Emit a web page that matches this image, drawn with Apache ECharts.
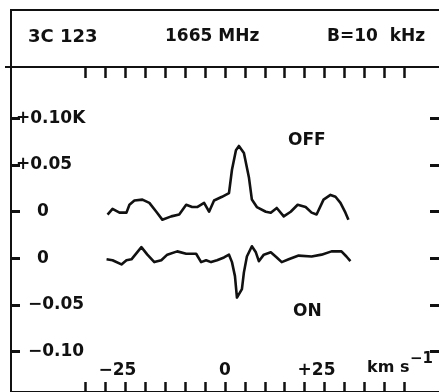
<!DOCTYPE html>
<html>
<head>
<meta charset="utf-8">
<script src="https://cdn.jsdelivr.net/npm/echarts@6/dist/echarts.min.js"></script>
<style>
  html, body { margin: 0; padding: 0; background: #fff; overflow: hidden; }
  #chart { width: 439px; height: 392px; }
</style>
</head>
<body>
<div id="chart"></div>
<script>
// OH 1665 MHz spectra toward 3C 123: off-source (upper) and on-source (lower)
const offVelocity = [-29.5, -28.25, -26.5, -24.75, -24, -22.75, -20.75, -19, -17.25, -15.75, -13.5, -11.5,
  -9.75, -8.25, -7, -5.25, -4, -2.75, -0.75, 1, 1.75, 2.75, 3.5, 4.75, 6, 6.75, 8, 10.25, 11.5, 13,
  14.75, 16.5, 18.25, 20.25, 21.75, 23, 24.75, 26.5, 27.75, 29, 30.25, 31];
const offTemp = [-0.003, 0.003, -0.001, -0.001, 0.0075, 0.012, 0.013, 0.0095, 0, -0.0085, -0.005, -0.003,
  0.0075, 0.005, 0.005, 0.0095, 0, 0.012, 0.016, 0.020, 0.045, 0.066, 0.0705, 0.063, 0.037, 0.013, 0.005,
  0, -0.001, 0.004, -0.005, 0, 0.0075, 0.005, -0.001, -0.003, 0.013, 0.018, 0.016, 0.0095, -0.001, -0.0085];

const onVelocity = [-29.75, -28.25, -26, -24.75, -23.5, -21, -19.5, -17.75, -16, -14.5, -12, -9.75, -7.25,
  -6, -4.75, -3.5, -2, -0.25, 1, 1.75, 2.5, 3, 3.5, 4.25, 4.75, 5.5, 6.75, 7.75, 8.5, 9.75, 11.5, 13,
  14.25, 16, 18.5, 21.75, 24.25, 26.75, 29.25, 30.5, 31.5];
const onTemp = [-0.001, -0.002, -0.0065, -0.002, -0.001, 0.012, 0.004, -0.004, -0.002, 0.004, 0.0075, 0.005,
  0.005, -0.004, -0.002, -0.004, -0.002, 0.001, 0.004, -0.004, -0.019, -0.042, -0.044, -0.033, -0.015, 0.002,
  0.013, 0.0065, -0.003, 0.004, 0.0065, 0.001, -0.004, -0.001, 0.003, 0.002, 0.004, 0.0075, 0.0075, 0.002, -0.003];

const offBaseline = 0.05;   // the OFF spectrum sits 0.05 K above the ON spectrum

const velocityTicks = [-35, -30, -25, -20, -15, -10, -5, 0, 5, 10, 15, 20, 25, 30, 35, 40, 45];
const velocityLabelValues = [-25, 0, 25];
const velocityLabelText = ['−25', '0', '+25'];

const tempTickValues = [0.15, 0.10, 0.05, 0, -0.05, -0.10];
const tempTickText = ['+0.10K', '+0.05', '0', '0', '−0.05', '−0.10'];

const FONT = 'DejaVu Sans';
const INK = '#111';

function pairs(xs, ys, shift) {
  return xs.map((x, i) => [x, ys[i] + shift]);
}
function lookup(values, texts, v) {
  const i = values.findIndex(t => Math.abs(t - v) < 1e-6);
  return i < 0 ? '' : texts[i];
}
function frameLine(show) {
  return { show: show, onZero: false, lineStyle: { color: show ? INK : 'rgba(0,0,0,0)', width: 2 } };
}

const chart = echarts.init(document.getElementById('chart'), null, { renderer: 'canvas' });

// the frame's right edge lies just past the page; only its ticks show
const xRange = { min: -53.75, max: 53.75 };
const yRange = { min: -0.1432, max: 0.2051 };

chart.setOption({
  backgroundColor: '#fff',
  animation: false,
  grid: { left: 11, top: 67, right: -2, height: 326, containLabel: false },
  xAxis: [
    {
      type: 'value', position: 'bottom', ...xRange,
      axisLine: frameLine(true), splitLine: { show: false },
      axisTick: { show: true, inside: true, length: 10, customValues: velocityTicks,
        lineStyle: { color: INK, width: 2.5 } },
      axisLabel: {
        show: true, inside: true, margin: 13, customValues: velocityLabelValues,
        formatter: v => {
          const t = lookup(velocityLabelValues, velocityLabelText, v);
          return /^[−+]/.test(t) ? '{s|' + t + '}' : '{n|' + t + '}';
        },
        rich: {
          s: { fontFamily: FONT, fontWeight: 'bold', fontSize: 17, color: INK, padding: [0, 16, 0, 0] },
          n: { fontFamily: FONT, fontWeight: 'bold', fontSize: 17, color: INK }
        }
      }
    },
    {
      type: 'value', position: 'top', ...xRange,
      axisLine: frameLine(true), splitLine: { show: false },
      axisTick: { show: true, inside: true, length: 11, customValues: velocityTicks,
        lineStyle: { color: INK, width: 2.5 } },
      axisLabel: { show: false }
    }
  ],
  yAxis: [
    {
      type: 'value', position: 'left', ...yRange,
      axisLine: frameLine(true), splitLine: { show: false },
      axisTick: { show: true, inside: true, length: 9, customValues: tempTickValues,
        lineStyle: { color: INK, width: 3 } },
      axisLabel: {
        show: true, inside: true, margin: 4, customValues: tempTickValues,
        formatter: v => {
          const t = lookup(tempTickValues, tempTickText, v);
          if (t[0] === '+') return '{p|' + t + '}';
          if (t[0] === '−') return '{m|' + t + '}';
          return '{z|' + t + '}';
        },
        rich: {
          p: { fontFamily: FONT, fontWeight: 'bold', fontSize: 17, color: INK, padding: [0, 0, 0, 1] },
          m: { fontFamily: FONT, fontWeight: 'bold', fontSize: 17, color: INK, padding: [0, 0, 0, 13] },
          z: { fontFamily: FONT, fontWeight: 'bold', fontSize: 17, color: INK, padding: [0, 0, 0, 22] }
        }
      }
    },
    {
      type: 'value', position: 'right', ...yRange,
      axisLine: frameLine(false), splitLine: { show: false },
      axisTick: { show: true, inside: true, length: 9, customValues: tempTickValues,
        lineStyle: { color: INK, width: 3 } },
      axisLabel: { show: false }
    }
  ],
  graphic: [
    // header box above the plot
    { type: 'line', shape: { x1: 10, y1: 10, x2: 439, y2: 10 }, style: { stroke: INK, lineWidth: 2 } },
    { type: 'line', shape: { x1: 11, y1: 10, x2: 11, y2: 67 }, style: { stroke: INK, lineWidth: 2 } },
    { type: 'line', shape: { x1: 5, y1: 67, x2: 11, y2: 67 }, style: { stroke: INK, lineWidth: 2 } },
    { type: 'text', left: 28, top: 28, style: { text: '3C 123', font: 'bold 18px "DejaVu Sans"', fill: INK } },
    { type: 'text', left: 165, top: 28, style: { text: '1665 MHz', font: 'bold 17px "DejaVu Sans"', fill: INK } },
    { type: 'text', left: 327, top: 28, style: { text: 'B=10  kHz', font: 'bold 17px "DejaVu Sans"', fill: INK } },
    { type: 'text', left: 288, top: 132, style: { text: 'OFF', font: 'bold 17px "DejaVu Sans"', fill: INK } },
    { type: 'text', left: 293, top: 303, style: { text: 'ON', font: 'bold 17px "DejaVu Sans"', fill: INK } },
    { type: 'text', left: 367, top: 360, style: { text: 'km s', font: 'bold 16px "DejaVu Sans"', fill: INK } },
    { type: 'text', left: 410, top: 352, style: { text: '−1', font: 'bold 15px "DejaVu Sans"', fill: INK } }
  ],
  series: [
    {
      name: 'OFF', type: 'line', xAxisIndex: 0, yAxisIndex: 0,
      data: pairs(offVelocity, offTemp, offBaseline),
      showSymbol: false, symbol: 'none', silent: true,
      lineStyle: { color: INK, width: 2.6, join: 'round' }
    },
    {
      name: 'ON', type: 'line', xAxisIndex: 0, yAxisIndex: 0,
      data: pairs(onVelocity, onTemp, 0),
      showSymbol: false, symbol: 'none', silent: true,
      lineStyle: { color: INK, width: 2.6, join: 'round' }
    }
  ]
});
</script>
</body>
</html>
